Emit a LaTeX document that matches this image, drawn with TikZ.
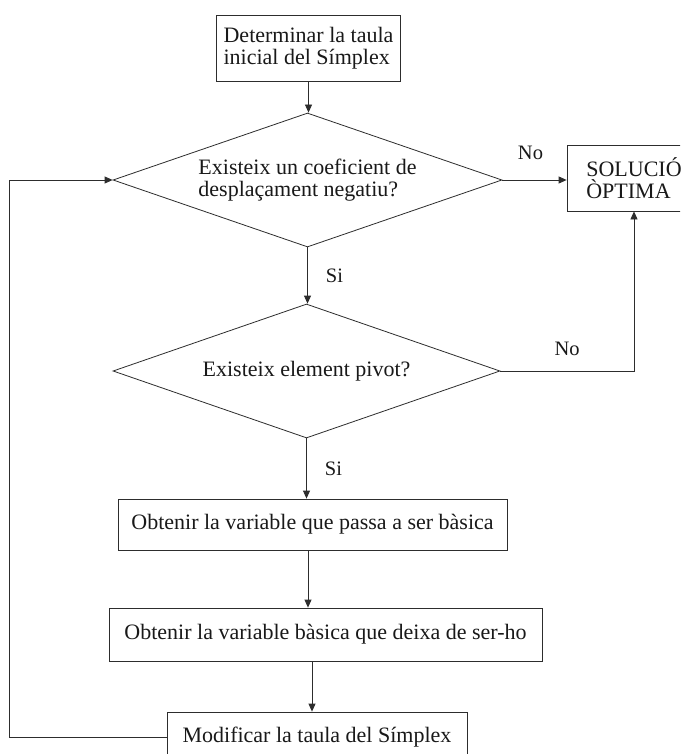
\documentclass[tikz,border=0pt]{standalone}
\usepackage{fontspec}
\setmainfont{Liberation Serif}
\usetikzlibrary{arrows.meta,shapes.geometric}
\definecolor{fcLine}{RGB}{45,45,45}
\definecolor{fcText}{RGB}{25,25,25}

\begin{document}
\begin{tikzpicture}[
  x=1pt, y=-1pt,
  font=\fontsize{22}{22}\selectfont,
  box/.style={draw=fcLine, line width=0.8pt, rectangle, inner sep=3pt, align=center, text=fcText},
  cond/.style={draw=fcLine, line width=0.8pt, diamond, aspect=2.9, inner sep=0pt, minimum height=134pt, align=left, text=fcText},
  flow/.style={draw=fcLine, line width=0.8pt, -{Triangle[length=8pt,width=7pt]}},
  lbl/.style={font=\fontsize{20.5}{22}\selectfont, text=fcText, inner sep=2pt}
]
\clip (0,0) rectangle (680,754);
\fill[white] (0,0) rectangle (680,754);

\node[box, minimum width=184pt, minimum height=66pt, align=left] (init) at (308.5,48) {Determinar la taula\\inicial del Símplex};
\node[cond, minimum width=389pt] (exist) at (307.5,180) {Existeix un coeficient de\\desplaçament negatiu?};
\node[box, minimum width=134pt, minimum height=66pt, align=left] (sol) at (634,178) {SOLUCIÓ\\ÒPTIMA};
\node[cond, minimum width=387pt] (pivot) at (306.5,371) {Existeix element pivot?};
\node[box, minimum width=389pt, minimum height=51pt] (basic) at (312.5,524.5) {Obtenir la variable que passa a ser bàsica};
\node[box, minimum width=433pt, minimum height=53pt] (leave) at (325.5,634.5) {Obtenir la variable bàsica que deixa de ser-ho};
\node[box, minimum width=300pt, minimum height=50pt] (modif) at (317,737) {Modificar la taula del Símplex};

\draw[flow] (init.south) -- (init.south |- exist.north);
\draw[flow] (exist.east) -- (exist.east -| sol.west) node[lbl, midway, above=18pt, xshift=-4pt] {No};
\draw[flow] (exist.south) -- (exist.south |- pivot.north) node[lbl, midway, right=16pt] {Si};
\draw[flow] (pivot.east) -- (pivot.east -| sol.south) node[lbl, midway, above=13pt] {No} -- (sol.south);
\draw[flow] (pivot.south) -- (pivot.south |- basic.north) node[lbl, midway, right=16pt] {Si};
\draw[flow] ([xshift=-4.5pt]basic.south) -- ([xshift=-4.5pt]basic.south |- leave.north);
\draw[flow] ([xshift=-13.5pt]leave.south) -- ([xshift=-13.5pt]leave.south |- modif.north);
\draw[flow] (modif.west) -- ++(-157,0) |- (exist.west);
\end{tikzpicture}
\end{document}
